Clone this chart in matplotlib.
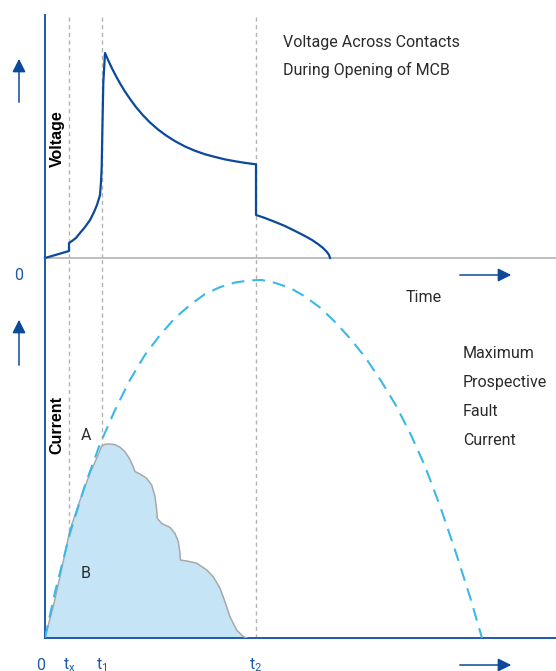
import matplotlib.pyplot as plt
from matplotlib.patches import FancyArrowPatch

# time axis in ms (t2 = 10 ms)
t_x = 1.137
t_1 = 2.70
t_2 = 10.0

# voltage across contacts (peak = 1.0)
volt_t = [0.0, 1.137, 1.137, 1.280, 1.469, 1.659, 1.896, 2.133, 2.322, 2.464, 2.607,
          2.654, 2.687, 2.716, 2.763, 2.844, 2.986, 3.175, 3.365, 3.555, 3.791,
          4.028, 4.313, 4.645, 4.976, 5.355, 5.735, 6.161, 6.635, 7.109, 7.583,
          8.057, 8.531, 9.005, 9.479, 10.0, 10.0, 10.427, 10.900, 11.374, 11.848,
          12.322, 12.654, 12.938, 13.175, 13.365, 13.460, 13.507]
volt_v = [0.0, 0.034, 0.073, 0.083, 0.098, 0.122, 0.151, 0.185, 0.224, 0.259, 0.307,
          0.371, 0.444, 0.610, 0.854, 1.0, 0.967, 0.925, 0.887, 0.852, 0.812,
          0.776, 0.736, 0.696, 0.661, 0.627, 0.598, 0.570, 0.544, 0.523, 0.506,
          0.493, 0.481, 0.472, 0.464, 0.457, 0.210, 0.195, 0.176, 0.156, 0.132,
          0.107, 0.088, 0.068, 0.049, 0.029, 0.015, 0.0]

# maximum prospective fault current (peak = 1.0)
prosp_t = [0.0, 0.474, 1.185, 1.896, 2.607, 3.318, 4.028, 4.739, 5.450, 6.161, 6.872,
           7.583, 8.294, 9.005, 9.716, 10.284, 10.900, 11.611, 12.322, 13.033, 13.744,
           14.455, 15.166, 15.877, 16.588, 17.299, 18.009, 18.720, 19.431, 20.142,
           20.711]
prosp_i = [0.0, 0.128, 0.293, 0.427, 0.542, 0.637, 0.721, 0.791, 0.846, 0.894, 0.930,
           0.961, 0.980, 0.993, 0.999, 1.0, 0.992, 0.978, 0.954, 0.923, 0.883,
           0.837, 0.785, 0.723, 0.654, 0.573, 0.480, 0.369, 0.246, 0.115,
           0.0]

# actual (limited) current through the MCB
cur_t = [0.0, 0.156, 0.393, 0.711, 1.185, 1.659, 2.133, 2.450, 2.687, 2.844, 3.081,
         3.318, 3.555, 3.791, 3.995, 4.185, 4.265, 4.502, 4.820, 5.057, 5.213, 5.294,
         5.322, 5.531, 5.924, 6.161, 6.318, 6.398, 6.412, 6.716, 7.190, 7.664, 7.976,
         8.294, 8.531, 8.768, 9.085, 9.398, 9.559]
cur_i = [0.0, 0.036, 0.088, 0.171, 0.302, 0.385, 0.460, 0.502, 0.536, 0.541, 0.542,
         0.540, 0.533, 0.520, 0.502, 0.478, 0.465, 0.458, 0.446, 0.427, 0.395, 0.358,
         0.334, 0.320, 0.309, 0.292, 0.269, 0.237, 0.218, 0.215, 0.209, 0.190, 0.171,
         0.139, 0.101, 0.059, 0.022, 0.004, 0.0]

W, H = 556, 671
dark_blue = '#0b4a9b'
spine_blue = '#1f5aa6'
light_blue = '#3bb8e8'
fill_blue = '#c5e5f7'
grey = '#b3b3b3'
txt = '#2b2b2b'

plt.rcParams['font.family'] = ['Roboto', 'DejaVu Sans']

fig = plt.figure(figsize=(W / 100, H / 100), dpi=100)


def px_box(x0, y0, x1, y1):
    return [x0 / W, 1 - y1 / H, (x1 - x0) / W, (y1 - y0) / H]


xmax = (W - 45) / 21.1

ax_v = fig.add_axes(px_box(45, 15, W, 258))
ax_i = fig.add_axes(px_box(45, 258, W, 638))

for ax in (ax_v, ax_i):
    ax.set_xlim(0, xmax)
    ax.set_xticks([])
    ax.set_yticks([])
    ax.spines['top'].set_visible(False)
    ax.spines['right'].set_visible(False)
    ax.spines['left'].set_color(spine_blue)
    ax.spines['left'].set_linewidth(1.4)
    ax.patch.set_alpha(0)
    for t in (t_x, t_1, t_2):
        ax.axvline(t, color=grey, lw=1, dashes=(3, 2.5), zorder=1)

ax_v.set_ylim(0, 243 / 205)
ax_v.spines['bottom'].set_color(grey)
ax_v.spines['bottom'].set_linewidth(1.2)
ax_v.plot(volt_t, volt_v, color=dark_blue, lw=1.6, zorder=3, clip_on=False,
          solid_joinstyle='round')

ax_i.set_ylim(0, 380 / 358)
ax_i.spines['bottom'].set_color(spine_blue)
ax_i.spines['bottom'].set_linewidth(1.4)
ax_i.fill_between(cur_t, cur_i, color=fill_blue, zorder=2, lw=0)
ax_i.plot(cur_t, cur_i, color='#a8a8a8', lw=1.1, zorder=3, solid_joinstyle='round')
ax_i.plot(prosp_t, prosp_i, color=light_blue, lw=1.5, dashes=(6.2, 3.8), zorder=4)


def ftext(x, y, s, **kw):
    fig.text(x / W, 1 - y / H, s, **kw)


def farrow(x0, y0, x1, y1):
    fig.add_artist(FancyArrowPatch(
        (x0 / W, 1 - y0 / H), (x1 / W, 1 - y1 / H), transform=fig.transFigure,
        arrowstyle='-|>', mutation_scale=20, color=dark_blue, lw=1.1))


farrow(19, 105, 19, 56)
farrow(19, 368, 19, 317)
farrow(457, 275, 514, 275)
farrow(457, 665, 514, 665)

fs = 11.5
ftext(283, 42, 'Voltage Across Contacts', fontsize=fs, color=txt, va='center')
ftext(283, 70, 'During Opening of MCB', fontsize=fs, color=txt, va='center')
ftext(424, 297, 'Time', fontsize=fs, color=txt, va='center', ha='center')
for k, s in enumerate(['Maximum', 'Prospective', 'Fault', 'Current']):
    ftext(463, 353 + k * 29.3, s, fontsize=fs, color=txt, va='center')
ftext(86, 436, 'A', fontsize=fs, color=txt, va='center', ha='center')
ftext(86, 574, 'B', fontsize=fs, color=txt, va='center', ha='center')

ftext(57, 139, 'Voltage', fontsize=11.5, fontweight='bold', color='black',
      family='Liberation Sans', rotation=90, va='center', ha='center')
ftext(57, 425, 'Current', fontsize=11.5, fontweight='bold', color='black',
      family='Liberation Sans', rotation=90, va='center', ha='center')

ftext(19, 276, '0', fontsize=fs, color=spine_blue, va='center', ha='center')
for x, s in [(41, '0'), (69, 't$_{\\mathregular{x}}$'), (102, 't$_{\\mathregular{1}}$'),
             (256, 't$_{\\mathregular{2}}$')]:
    ftext(x, 665, s, fontsize=fs, color=spine_blue, va='center', ha='center')

fig.savefig('out.png', dpi=100)
